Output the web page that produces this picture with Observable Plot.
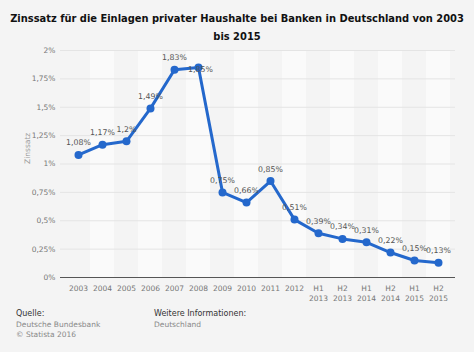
<!DOCTYPE html>
<html>
<head>
<meta charset="utf-8">
<script src="https://cdn.jsdelivr.net/npm/d3@7"></script>
<script src="https://cdn.jsdelivr.net/npm/@observablehq/plot@0.6"></script>
<style>
  html, body { margin: 0; padding: 0; background: #f4f4f4; }
  body { width: 474px; height: 352px; overflow: hidden; position: relative; font-family: "DejaVu Sans", sans-serif; }
  #title { position: absolute; left: 0; top: 10px; width: 474px; text-align: center; font-family: "DejaVu Sans Condensed", "DejaVu Sans", sans-serif; font-weight: bold; font-size: 11px; line-height: 18px; color: #111; white-space: nowrap; }
  #chart { position: absolute; left: 0; top: 44px; }
  .foot { position: absolute; font-size: 7.5px; line-height: 10.5px; color: #888; }
  .foot b { font-weight: normal; color: #333; font-size: 8px; }
</style>
</head>
<body>
<div id="title"><span id="t1">Zinssatz für die Einlagen privater Haushalte bei Banken in Deutschland von 2003</span><br>bis 2015</div>
<div id="chart"></div>
<div class="foot" style="left:16px; top:309px;"><b>Quelle:</b><br>Deutsche Bundesbank<br>© Statista 2016</div>
<div class="foot" style="left:154px; top:309px;"><b>Weitere Informationen:</b><br>Deutschland</div>
<script>
// fit title first line to ~459px
(function() {
  const t = document.getElementById("title");
  const s = document.getElementById("t1");
  let fs = 11;
  while (s.getBoundingClientRect().width > 460 && fs > 8) { fs -= 0.1; t.style.fontSize = fs + "px"; }
})();

const categories = ["2003","2004","2005","2006","2007","2008","2009","2010","2011","2012","H1 2013","H2 2013","H1 2014","H2 2014","H1 2015","H2 2015"];
const values = [1.08, 1.17, 1.2, 1.49, 1.83, 1.85, 0.75, 0.66, 0.85, 0.51, 0.39, 0.34, 0.31, 0.22, 0.15, 0.13];
const yTicks = [0, 0.25, 0.5, 0.75, 1, 1.25, 1.5, 1.75, 2];

const data = categories.map((c, i) => ({cat: c, value: values[i]}));
const bands = categories.filter((c, i) => i % 2 === 1);
const fmt = v => String(v).replace(".", ",") + "%";
const labelData = data.map(d => ({...d, special: d.cat === "2008"}));

const chart = Plot.plot({
  width: 474,
  height: 262,
  marginLeft: 60,
  marginRight: 19,
  marginTop: 6,
  marginBottom: 29,
  style: {background: "transparent", fontFamily: "DejaVu Sans, sans-serif", fontSize: "8px", color: "#666"},
  x: {type: "band", domain: categories, padding: 0, label: null},
  y: {domain: [0, 2], ticks: yTicks, label: null},
  marks: [
    Plot.barY(bands, {x: d => d, y1: 0, y2: 2, fill: "#fafafa", inset: 0}),
    Plot.gridY(yTicks, {stroke: "#e4e4e4", strokeOpacity: 1, strokeWidth: 1}),
    Plot.ruleY([0], {stroke: "#555", strokeWidth: 1.2}),
    Plot.axisY({ticks: yTicks, tickSize: 0, tickPadding: 5, tickFormat: fmt, fill: "#777", fontSize: 7.5}),
    Plot.axisX({tickSize: 0, tickPadding: 7, tickFormat: d => d.replace(" ", "\n"), fill: "#777", fontSize: 7.5, lineHeight: 1.25}),
    Plot.text(["Zinssatz"], {frameAnchor: "left", dx: -33, rotate: -90, fill: "#999", fontSize: 7.5}),
    Plot.line(data, {x: "cat", y: "value", stroke: "#2468cc", strokeWidth: 3, curve: "linear"}),
    Plot.dot(data, {x: "cat", y: "value", r: 4, fill: "#2468cc", stroke: "none"}),
    Plot.text(labelData.filter(d => !d.special), {x: "cat", y: "value", text: d => fmt(d.value), dy: -12, fill: "#555", fontSize: 7.8}),
    Plot.text(labelData.filter(d => d.special), {x: "cat", y: "value", text: d => fmt(d.value), dy: 2, dx: 2, fill: "#555", fontSize: 7.8})
  ]
});
document.getElementById("chart").appendChild(chart);
</script>
</body>
</html>
